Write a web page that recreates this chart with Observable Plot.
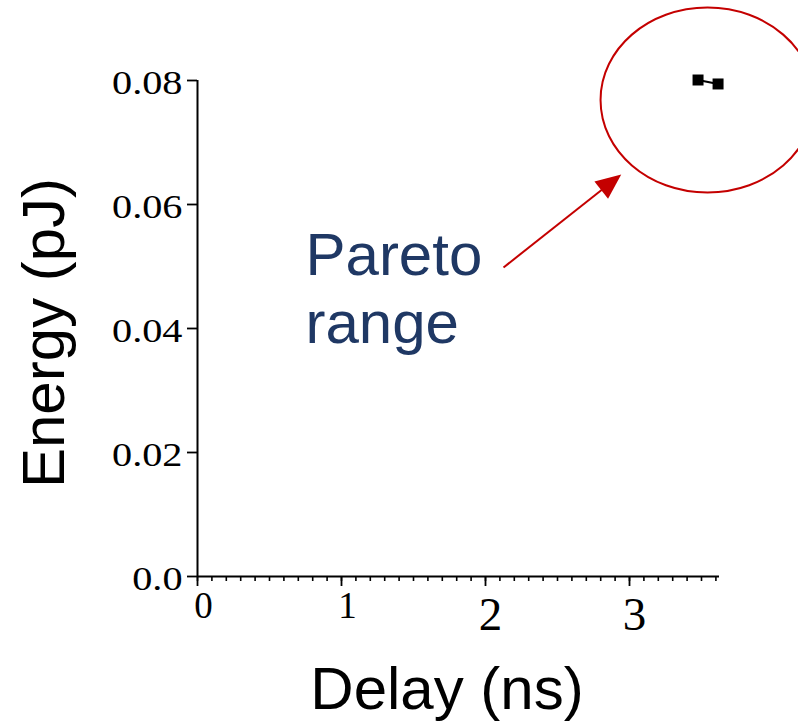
<!DOCTYPE html>
<html><head><meta charset="utf-8">
<script src="https://cdn.jsdelivr.net/npm/d3@7"></script>
<script src="https://cdn.jsdelivr.net/npm/@observablehq/plot@0.6"></script>
<style>html,body{margin:0;padding:0;background:#fff;}</style>
</head><body><div id="chart"></div>
<script>
// ---- data ----
const delay = [3.476, 3.615];          // ns
const energy = [0.08008, 0.07944];     // pJ
const xTicks = [0, 1, 2, 3];
const xTickLabels = ["0", "1", "2", "3"];
const xMinorTicks = [0,0.1,0.2,0.3,0.4,0.5,0.6,0.7,0.8,0.9,1,1.1,1.2,1.3,1.4,1.5,1.6,1.7,1.8,1.9,2,2.1,2.2,2.3,2.4,2.5,2.6,2.7,2.8,2.9,3,3.1,3.2,3.3,3.4,3.5,3.6];
const yTicks = [0, 0.02, 0.04, 0.06, 0.08];
const yTickLabels = ["0.0", "0.02", "0.04", "0.06", "0.08"];
const xLabel = "Delay (ns)";
const yLabel = "Energy (pJ)";
const noteText = "Pareto\nrange";
// annotation anchors (data units)
const ellipseCenter = [{x: 3.542, y: 0.07685}];
const arrowStart = {x: 2.125, y: 0.04984};
const arrowHead = [{x: 2.850, y: 0.06315}];
const notePos = [{x: 0.75, y: 0.05634, text: noteText}];

const points = delay.map((d, i) => ({delay: d, energy: energy[i]}));

const SANS = "Liberation Sans, Arial, sans-serif";
const SERIF = "Liberation Serif, Times New Roman, serif";
const RED = "#c40000";

const ellipseSymbol = {
  draw(ctx) {
    const rx = 107, ry = 92.5, k = 0.5523;
    ctx.moveTo(rx, 0);
    ctx.bezierCurveTo(rx, k * ry, k * rx, ry, 0, ry);
    ctx.bezierCurveTo(-k * rx, ry, -rx, k * ry, -rx, 0);
    ctx.bezierCurveTo(-rx, -k * ry, -k * rx, -ry, 0, -ry);
    ctx.bezierCurveTo(k * rx, -ry, rx, -k * ry, rx, 0);
    ctx.closePath();
  }
};
const headSymbol = {
  draw(ctx) {
    ctx.moveTo(0, -17);
    ctx.lineTo(11, 8.5);
    ctx.lineTo(-11, 8.5);
    ctx.closePath();
  }
};

const fmtY = d => yTickLabels[yTicks.indexOf(d)];
const fmtX = d => xTickLabels[xTicks.indexOf(d)];

const plot = Plot.plot({
  width: 798,
  height: 723,
  marginLeft: 197,
  marginRight: 79,
  marginTop: 80,
  marginBottom: 147,
  x: {domain: [0, 3.625]},
  y: {domain: [0, 0.08]},
  style: {background: "#fff", color: "#000"},
  marks: [
    Plot.ruleX([0], {y1: 0, y2: 0.08, stroke: "#000", strokeWidth: 2}),
    Plot.ruleY([0], {x1: 0, x2: 3.625, stroke: "#000", strokeWidth: 2}),
    Plot.axisY(yTicks, {tickSize: 10, text: null, stroke: "#000", strokeWidth: 1.8}),
    Plot.axisY(yTicks, {tickSize: 0, tickPadding: 15, tickFormat: fmtY, fontSize: 33, fontFamily: SERIF, fill: "#000", dy: 3}),
    Plot.axisX(xMinorTicks, {tickSize: 5, text: null, stroke: "#000", strokeWidth: 1.6}),
    Plot.axisX(xTicks, {tickSize: 10, text: null, stroke: "#000", strokeWidth: 1.8}),
    Plot.axisX(xTicks.slice(0, 2), {tickSize: 0, tickPadding: 15, tickFormat: fmtX, fontSize: 37, fontFamily: SERIF, fill: "#000", dx: 6}),
    Plot.axisX(xTicks.slice(2), {tickSize: 0, tickPadding: 20.5, tickFormat: fmtX, fontSize: 47, fontFamily: SERIF, fill: "#000", dx: 5}),
    Plot.text([xLabel], {frameAnchor: "bottom", text: d => d, textAnchor: "middle", lineAnchor: "middle", dx: -11.5, dy: 112.8, fontSize: 60, fontFamily: SANS, fill: "#000"}),
    Plot.text([yLabel], {frameAnchor: "left", text: d => d, textAnchor: "middle", lineAnchor: "middle", rotate: -90, dx: -153.2, dy: 4.5, fontSize: 60, fontFamily: SANS, fill: "#000"}),
    Plot.line(points, {x: "delay", y: "energy", stroke: "#000", strokeWidth: 2.2}),
    Plot.dot(points, {x: "delay", y: "energy", symbol: "square", r: 6.2, fill: "#000", stroke: null}),
    Plot.dot(ellipseCenter, {x: "x", y: "y", symbol: ellipseSymbol, r: 10, fill: "none", stroke: RED, strokeWidth: 2}),
    Plot.link(arrowHead, {x1: arrowStart.x, y1: arrowStart.y, x2: "x", y2: "y", stroke: RED, strokeWidth: 2}),
    Plot.dot(arrowHead, {x: "x", y: "y", symbol: headSymbol, r: 10, rotate: 51.7, fill: RED, stroke: null}),
    Plot.text(notePos, {x: "x", y: "y", text: "text", textAnchor: "start", lineAnchor: "top", lineHeight: 1.133, fontSize: 60, fontFamily: SANS, fill: "#1f3864"})
  ]
});
document.getElementById("chart").appendChild(plot);

// horizontally stretch the y tick labels as in the reference
d3.select(plot).selectAll('g[aria-label="y-axis tick label"] text').each(function() {
  const len = this.getComputedTextLength();
  this.setAttribute("textLength", len * 1.22);
  this.setAttribute("lengthAdjust", "spacingAndGlyphs");
});
</script>
</body></html>
